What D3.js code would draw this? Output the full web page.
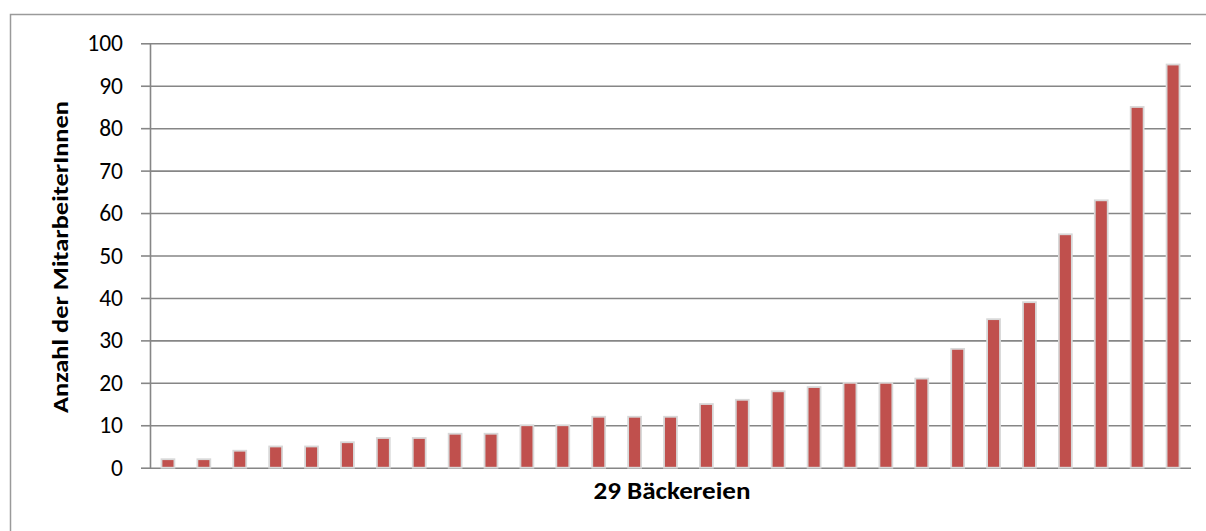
<!DOCTYPE html>
<html>
<head>
<meta charset="utf-8">
<script src="https://cdn.jsdelivr.net/npm/d3@7"></script>
<style>
  html, body { margin: 0; padding: 0; background: #fff; }
  svg { display: block; font-family: Carlito, Calibri, Lato, "Open Sans", sans-serif; }
</style>
</head>
<body>
<svg id="chart" width="1206" height="531"></svg>
<script>
// Mitarbeiterzahl je Bäckerei, aufsteigend sortiert
const categories = [
  "B1", "B2", "B3", "B4", "B5", "B6", "B7", "B8", "B9", "B10",
  "B11", "B12", "B13", "B14", "B15", "B16", "B17", "B18", "B19", "B20",
  "B21", "B22", "B23", "B24", "B25", "B26", "B27", "B28", "B29"
];
const employees = [
  2, 2, 4, 5, 5, 6, 7, 7, 8, 8,
  10, 10, 12, 12, 12, 15, 16, 18, 19, 20,
  20, 21, 28, 35, 39, 55, 63, 85, 95
];
const yTicks = [0, 10, 20, 30, 40, 50, 60, 70, 80, 90, 100];
const xTitle = "29 Bäckereien";
const yTitle = "Anzahl der MitarbeiterInnen";

const svg = d3.select("#chart");

const plotLeft = 150, plotRight = 1191, plotTop = 43.3, plotBottom = 467.7;

const x = d3.scaleBand()
  .domain(categories)
  .range([plotLeft, plotRight])
  .paddingInner(0.64)
  .paddingOuter(0.32);

const y = d3.scaleLinear()
  .domain([0, 100])
  .range([plotBottom, plotTop]);

// chart frame
svg.append("rect")
  .attr("x", 10.5).attr("y", 14.5)
  .attr("width", 1300).attr("height", 600)
  .attr("fill", "none")
  .attr("stroke", "#9a9a9a")
  .attr("stroke-width", 1.5);

// horizontal gridlines
const grid = svg.append("g")
  .attr("transform", `translate(${plotLeft},0)`)
  .call(d3.axisLeft(y).tickValues(yTicks).tickSize(-(plotRight - plotLeft)).tickFormat(""));
grid.select(".domain").remove();
grid.selectAll(".tick line").attr("stroke", "#868686").attr("stroke-width", 1.6);

// y axis with outward ticks
const yAxis = svg.append("g")
  .attr("transform", `translate(${plotLeft},0)`)
  .call(d3.axisLeft(y).tickValues(yTicks).tickSizeInner(9).tickSizeOuter(0).tickPadding(18));
yAxis.select(".domain").attr("stroke", "#868686").attr("stroke-width", 1.6);
yAxis.selectAll(".tick line").attr("stroke", "#868686").attr("stroke-width", 1.6);
yAxis.selectAll(".tick text")
  .attr("fill", "#000")
  .style("font-size", "23.5px")
  .style("font-family", "Carlito, Calibri, Lato, sans-serif");

// bars
svg.append("g")
  .selectAll("rect")
  .data(employees)
  .join("rect")
  .attr("x", (d, i) => x(categories[i]))
  .attr("y", d => y(d))
  .attr("width", x.bandwidth())
  .attr("height", d => y(0) - y(d))
  .attr("fill", "#C0504D")
  .attr("stroke", "#d8d8d8")
  .attr("stroke-width", 1.8);

// axis titles
svg.append("text")
  .attr("x", 672).attr("y", 499)
  .attr("text-anchor", "middle")
  .attr("textLength", 157)
  .attr("lengthAdjust", "spacingAndGlyphs")
  .style("font-size", "24px")
  .style("font-weight", "bold")
  .text(xTitle);

svg.append("text")
  .attr("transform", `translate(68,257) rotate(-90)`)
  .attr("text-anchor", "middle")
  .attr("textLength", 312)
  .attr("lengthAdjust", "spacingAndGlyphs")
  .style("font-size", "21.5px")
  .style("font-weight", "bold")
  .text(yTitle);
</script>
</body>
</html>
